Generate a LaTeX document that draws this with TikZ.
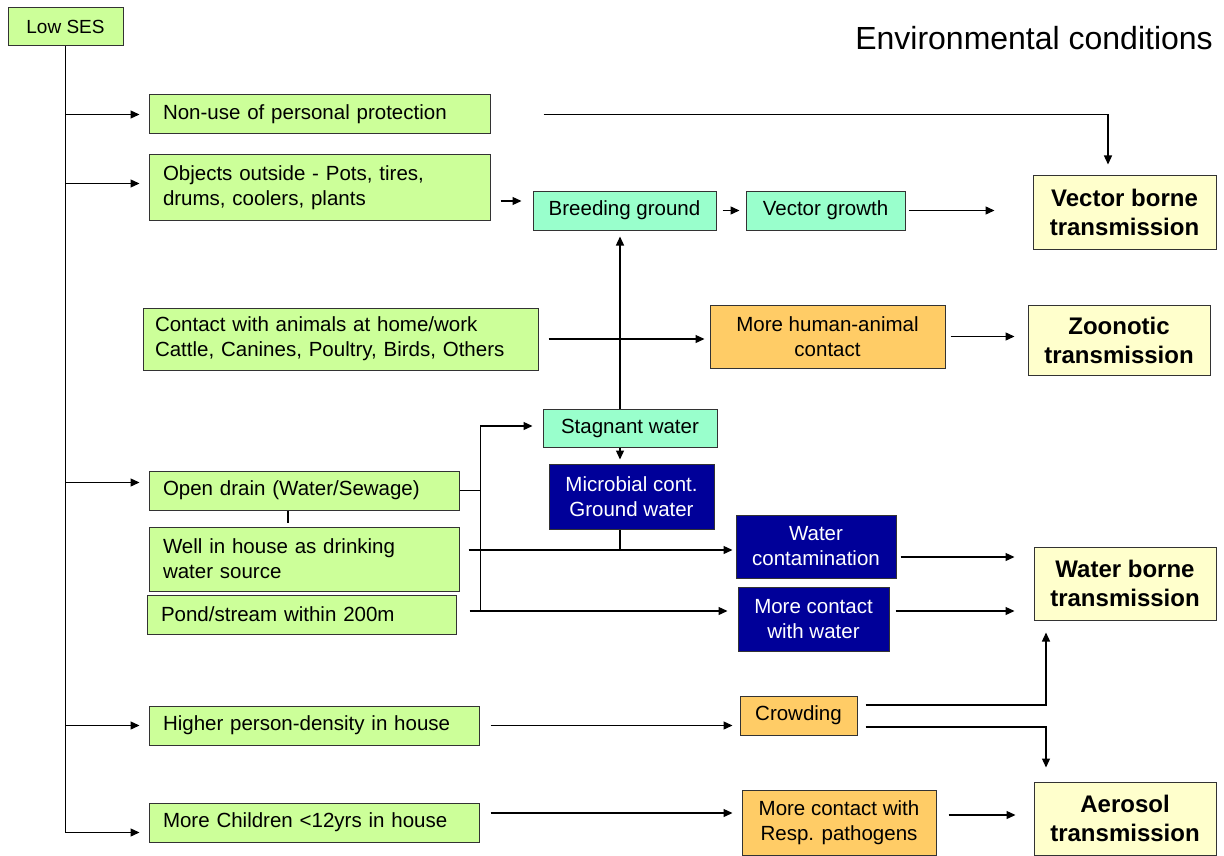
\documentclass[tikz,border=0pt]{standalone}
\usepackage{fontspec}
\setmainfont{Liberation Sans}
\usetikzlibrary{arrows.meta,calc}
\definecolor{lgreen}{HTML}{CCFF99}
\definecolor{lteal}{HTML}{99FFCC}
\definecolor{navyb}{HTML}{000099}
\definecolor{lorange}{HTML}{FFCC66}
\definecolor{lyellow}{HTML}{FFFFCC}
\tikzset{
 base/.style={draw=black!80, line width=1pt, inner sep=0pt, font=\fontsize{20.5}{25}\selectfont},
 gbox/.style={base, fill=lgreen, align=left, inner xsep=14pt},
 tbox/.style={base, fill=lteal, align=center},
 nbox/.style={base, fill=navyb, text=white, align=center},
 obox/.style={base, fill=lorange, align=center},
 ybox/.style={base, fill=lyellow, align=center, font=\bfseries\fontsize{24}{29}\selectfont},
 arr/.style={-{Triangle[length=9pt,width=8pt]}, line width=1.3pt},
 ln/.style={line width=1.3pt},
}
\begin{document}
\begin{tikzpicture}[x=1pt,y=-1pt]
\useasboundingbox (0,0) rectangle (1224,856);
% title
\node[anchor=base east, font=\fontsize{32}{36}\selectfont, inner sep=0pt] (title) at (1213,50) {Environmental conditions};
% green boxes
\node[base, fill=lgreen, minimum width=115pt, minimum height=38pt, font=\fontsize{19}{23}\selectfont] (ses) at (65.5,27) {Low SES};
\node[gbox, text width=313pt, minimum height=39pt] (nonuse) at (319.5,114.5) {Non-use of personal protection};
\node[gbox, text width=313pt, minimum height=65pt] (objects) at (319.5,187.5) {Objects outside - Pots, tires,\\drums, coolers, plants};
\node[gbox, text width=371pt, inner xsep=12pt, minimum height=62pt] (animals) at (340.5,339) {Contact with animals at home/work\\Cattle, Canines, Poultry, Birds, Others};
\node[gbox, text width=282pt, minimum height=39pt] (drain) at (304,490.5) {Open drain (Water/Sewage)};
\node[gbox, text width=282pt, minimum height=64pt] (well) at (304,559) {Well in house as drinking\\water source};
\node[gbox, text width=281pt, minimum height=39pt] (pond) at (301.5,614.5) {Pond/stream within 200m};
\node[gbox, text width=302pt, minimum height=39pt] (density) at (314,725.5) {Higher person-density in house};
\node[gbox, text width=302pt, minimum height=39pt] (children) at (314,822.5) {More Children <12yrs in house};
% teal
\node[tbox, minimum width=183pt, minimum height=39pt] (breeding) at (624.5,210.5) {Breeding ground};
\node[tbox, minimum width=159pt, minimum height=39pt] (vgrowth) at (825.5,210.5) {Vector growth};
\node[tbox, minimum width=174pt, minimum height=38pt] (stagnant) at (630,428) {Stagnant water};
% navy
\node[nbox, minimum width=165pt, minimum height=65pt] (micro) at (631.5,496.5) {Microbial cont.\\Ground water};
\node[nbox, minimum width=160pt, minimum height=63pt] (wcont) at (816,546.5) {Water\\contamination};
\node[nbox, minimum width=151pt, minimum height=64pt] (mcontact) at (813.5,619) {More contact\\with water};
% orange
\node[obox, minimum width=235pt, minimum height=63pt] (hanimal) at (827.5,336.5) {More human-animal\\contact};
\node[obox, minimum width=117pt, minimum height=39pt] (crowd) at (798.5,715.5) {Crowding};
\node[obox, minimum width=194pt, minimum height=65pt] (resp) at (839,822.5) {More contact with\\Resp. pathogens};
% yellow
\node[ybox, minimum width=183pt, minimum height=73pt] (vector) at (1124.5,212.5) {Vector borne\\transmission};
\node[ybox, minimum width=182pt, minimum height=70pt] (zoo) at (1119,340) {Zoonotic\\transmission};
\node[ybox, minimum width=182pt, minimum height=73pt] (water) at (1125,583.5) {Water borne\\transmission};
\node[ybox, minimum width=182pt, minimum height=73pt] (aerosol) at (1125,818.5) {Aerosol\\transmission};
% trunk
\coordinate (cb) at ([yshift=-10pt]children.west);
\draw[ln] (ses.south) -- (ses.south |- cb);
\draw[arr] (ses.south |- nonuse.west) -- ([xshift=-9pt]nonuse.west);
\draw[arr] ([yshift=4pt]ses.south |- objects.west) -- ([xshift=-9pt,yshift=4pt]objects.west);
\draw[arr] ([yshift=8pt]ses.south |- drain.west) -- ([xshift=-9pt,yshift=8pt]drain.west);
\draw[arr] (ses.south |- density.west) -- ([xshift=-9pt]density.west);
\draw[arr] (ses.south |- cb) -- ([xshift=-9pt]cb);
% vector borne chain
\draw[arr] ([xshift=53pt]nonuse.east) -| ([xshift=-16.5pt,yshift=11pt]vector.north);
\draw[arr] ([xshift=10pt,yshift=-13.5pt]objects.east) -- ([xshift=-11pt,yshift=-13.5pt]breeding.west |- objects.east);
\draw[arr] ([xshift=6pt]breeding.east) -- ([xshift=-6pt]vgrowth.west);
\draw[arr] ([xshift=3pt]vgrowth.east) -- ([xshift=-38pt]vector.west |- vgrowth.east);
\draw[arr] ([xshift=-10pt]stagnant.north) -- ([xshift=-10pt,yshift=-6pt]stagnant.north |- breeding.south);
% zoonotic
\draw[arr] ([xshift=10pt]animals.east) -- ([xshift=-5pt]hanimal.west |- animals.east);
\draw[arr] ([xshift=5pt]hanimal.east) -- ([xshift=-13pt]zoo.west |- hanimal.east);
% water
\draw[arr] ([xshift=-10pt]stagnant.south) -- ([xshift=-10pt,yshift=4pt]stagnant.south |- micro.north);
\draw[ln] ([xshift=-16pt]drain.south) -- ([xshift=-16pt,yshift=4pt]well.north);
\coordinate (j1) at ([xshift=21pt]drain.east);
\coordinate (p1) at ([xshift=13pt,yshift=3.5pt]pond.east);
\coordinate (w1) at ([xshift=9pt,yshift=9pt]well.east);
\draw[ln] (drain.east) -- (j1);
\draw[arr] (j1) |- ([xshift=-10pt,yshift=2pt]stagnant.west);
\draw[ln] (j1) -- (j1 |- p1);
\draw[arr] (p1) -- ([xshift=-10pt]mcontact.west |- p1);
\draw[arr] (w1) -- ([xshift=-3pt]wcont.west |- w1);
\draw[ln] ([xshift=-11.5pt]micro.south) -- ([xshift=-11.5pt]micro.south |- w1);
\draw[arr] ([xshift=4pt,yshift=-10.5pt]wcont.east) -- ([xshift=-19pt,yshift=-10.5pt]water.west |- wcont.east);
\draw[arr] ([xshift=6pt,yshift=8pt]mcontact.east) -- ([xshift=-19pt,yshift=8pt]water.west |- mcontact.east);
% crowding
\draw[arr] ([xshift=11pt]density.east) -- ([xshift=-7pt]crowd.west |- density.east);
\draw[arr] ([xshift=8pt,yshift=10.5pt]crowd.east) -| ([xshift=-79pt,yshift=-12pt]water.south);
\draw[arr] ([xshift=8pt,yshift=-11.5pt]crowd.east) -| ([xshift=-79pt,yshift=14pt]aerosol.north);
% aerosol
\draw[arr] ([xshift=11pt,yshift=9.5pt]children.east) -- ([xshift=-9pt,yshift=9.5pt]resp.west |- children.east);
\draw[arr] ([xshift=12pt,yshift=7.5pt]resp.east) -- ([xshift=-18pt,yshift=7.5pt]aerosol.west |- resp.east);
\end{tikzpicture}
\end{document}
